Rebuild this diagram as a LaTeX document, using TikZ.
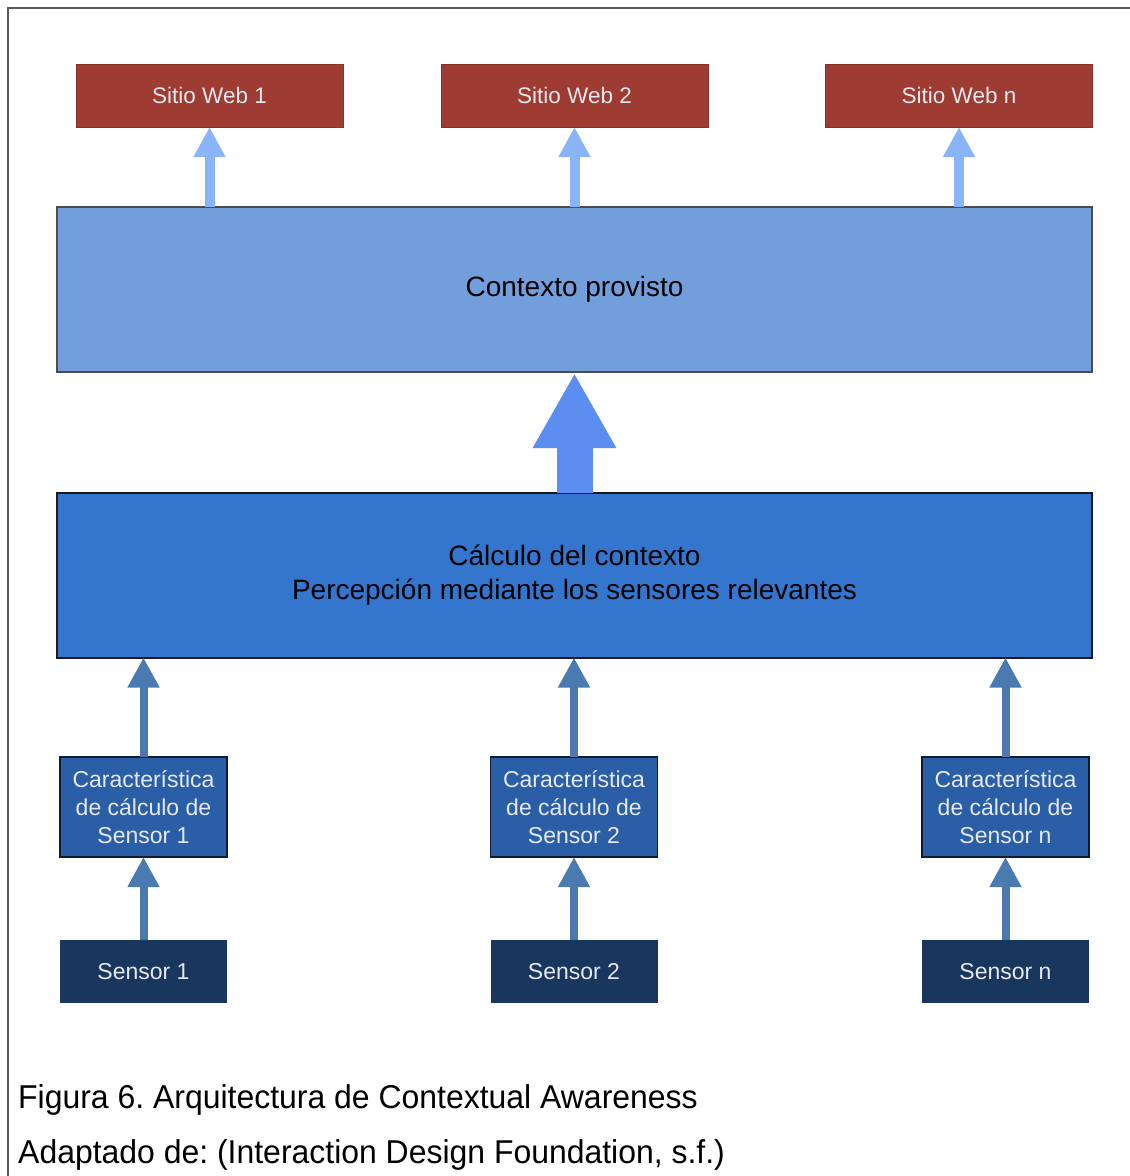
\documentclass[tikz,border=0pt]{standalone}
\usepackage{fontspec}
\setmainfont{Liberation Sans}
\usetikzlibrary{arrows.meta}
\frenchspacing
\definecolor{webred}{HTML}{9E3B33}
\definecolor{ctxblue}{HTML}{729FDB}
\definecolor{calcblue}{HTML}{3476CD}
\definecolor{featblue}{HTML}{2A5FA8}
\definecolor{sensnavy}{HTML}{18365E}
\definecolor{arrlight}{HTML}{8AB4F8}
\definecolor{arrbig}{HTML}{5B8EF0}
\definecolor{arrmid}{HTML}{4A7AB0}
\definecolor{boxtext}{HTML}{E6E9EE}
\tikzset{
  box/.style={rectangle, inner sep=0pt, outer sep=0pt, align=center},
  webbox/.style={box, fill=webred, draw=webred!85!black, line width=0.8pt,
    minimum width=267pt, minimum height=63pt, text=boxtext, font=\fontsize{22.5}{26}\selectfont},
  bigbox/.style={box, line width=2pt, minimum width=1035pt, minimum height=165pt,
    font=\fontsize{28}{34}\selectfont},
  featbox/.style={box, fill=featblue, draw=black!70!featblue, line width=1.5pt,
    minimum width=167pt, minimum height=100pt, text=boxtext, font=\fontsize{23}{28}\selectfont},
  sensbox/.style={box, fill=sensnavy, minimum width=167pt, minimum height=63pt,
    text=boxtext, font=\fontsize{23}{26}\selectfont},
  thinarr/.style={draw=arrlight, line width=10pt, -{Triangle[width=30pt,length=30pt]}},
  midarr/.style={draw=arrmid, line width=8pt, -{Triangle[width=30pt,length=30pt]}},
  fatarr/.style={draw=arrbig, line width=36pt, -{Triangle[width=78pt,length=75pt]}},
  caption/.style={anchor=base west, inner sep=0pt, font=\fontsize{33}{36}\selectfont}
}
\begin{document}
\begin{tikzpicture}[x=1pt,y=-1pt]
\useasboundingbox (0,0) rectangle (1130,1176);
% outer frame (left and top edges)
\draw[black!65, line width=1.2pt] (8,1176) -- (8,8) -- (1130,8);

% websites
\node[webbox] (w1) at (209.5,95.5) {Sitio Web 1};
\node[webbox] (w2) at (574.5,95.5) {Sitio Web 2};
\node[webbox] (wn) at (959,95.5) {Sitio Web n};

% provided context and context computation
\node[bigbox, fill=ctxblue, draw=black!70] (ctx) at (574.5,289.5) {Contexto provisto};
\node[bigbox, fill=calcblue, draw=black!90] (calc) at (574.5,575)
  {Cálculo del contexto\\Percepción mediante los sensores relevantes};

% feature computation per sensor
\node[featbox] (f1) at (143.5,807) {Característica\\de cálculo de\\Sensor 1};
\node[featbox] (f2) at (574,807) {Característica\\de cálculo de\\Sensor 2};
\node[featbox] (fn) at (1005.5,807) {Característica\\de cálculo de\\Sensor n};

% sensors
\node[sensbox] (s1) at (143.5,971.5) {Sensor 1};
\node[sensbox] (s2) at (574,971.5) {Sensor 2};
\node[sensbox] (sn) at (1005.5,971.5) {Sensor n};

% connectors
\draw[thinarr] (w1.south |- ctx.north) -- (w1.south);
\draw[thinarr] (w2.south |- ctx.north) -- (w2.south);
\draw[thinarr] (wn.south |- ctx.north) -- (wn.south);
\draw[fatarr] (calc.north) -- ([yshift=-1pt]ctx.south);
\draw[midarr] (f1.north) -- (f1.north |- calc.south);
\draw[midarr] (f2.north) -- (f2.north |- calc.south);
\draw[midarr] (fn.north) -- (fn.north |- calc.south);
\draw[midarr] (s1.north) -- (f1.south);
\draw[midarr] (s2.north) -- (f2.south);
\draw[midarr] (sn.north) -- (fn.south);

% caption
\node[caption] (cap1) at (18,1108) {\scalebox{0.968}[1]{Figura 6. Arquitectura de Contextual Awareness}};
\node[caption] (cap2) at (18,1163) {\scalebox{0.968}[1]{Adaptado de: (Interaction Design Foundation, s.f.)}};
\end{tikzpicture}
\end{document}
